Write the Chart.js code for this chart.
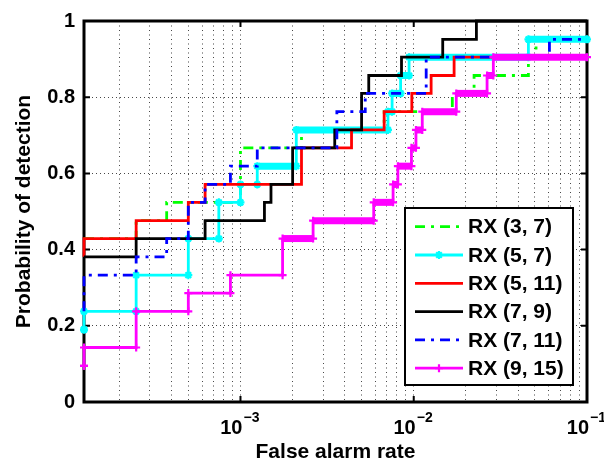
<!DOCTYPE html>
<html>
<head>
<meta charset="utf-8">
<script src="https://cdn.jsdelivr.net/npm/chart.js"></script>
<style>
  html, body { margin: 0; padding: 0; background: #fff; }
  #wrap { width: 604px; height: 466px; }
</style>
</head>
<body>
<div id="wrap"><canvas id="roc" width="604" height="466"></canvas></div>
<script>
// ROC curves: probability of detection against false alarm rate (log axis)
const seriesNames = ['RX (3, 7)', 'RX (5, 7)', 'RX (5, 11)', 'RX (7, 9)', 'RX (7, 11)', 'RX (9, 15)'];
const seriesColors = ['#00ff00', '#00ffff', '#ff0000', '#000000', '#0000ff', '#ff00ff'];

// step corners: false alarm rate where the curve jumps, detection level after the jump
const rx37Fa = [1.25e-4, 2.5e-4, 3.75e-4, 1e-3, 2.25e-3, 6.75e-3, 0.0167, 0.0223, 0.0459, 0.0508, 0.1];
const rx37Pd = [0.429, 0.476, 0.524, 0.667, 0.714, 0.762, 0.810, 0.857, 0.905, 0.952, 0.952];

const rx57Fa = [1.25e-4, 1.25e-4, 2.5e-4, 5e-4, 7.5e-4, 1e-3, 1.25e-3, 2.1e-3, 7.1e-3, 7.5e-3, 8.4e-3, 9.4e-3, 0.0459, 0.1];
const rx57Pd = [0.190, 0.238, 0.333, 0.429, 0.524, 0.571, 0.619, 0.714, 0.762, 0.810, 0.857, 0.905, 0.952, 0.952];

const rx511Fa = [1.25e-4, 1.25e-4, 2.5e-4, 5e-4, 6.25e-4, 2.25e-3, 4.375e-3, 6.75e-3, 9.75e-3, 0.0126, 0.0171, 0.1];
const rx511Pd = [0.381, 0.429, 0.476, 0.524, 0.571, 0.667, 0.714, 0.762, 0.810, 0.857, 0.905, 0.905];

const rx79Fa = [1.25e-4, 2.5e-4, 6.25e-4, 1.375e-3, 1.5e-3, 2e-3, 3.5e-3, 5e-3, 5.5e-3, 8.5e-3, 0.0147, 0.023, 0.1];
const rx79Pd = [0.381, 0.429, 0.476, 0.524, 0.571, 0.667, 0.714, 0.810, 0.857, 0.905, 0.952, 1.0, 1.0];

const rx711Fa = [1.25e-4, 1.25e-4, 2.5e-4, 3.75e-4, 5e-4, 6.25e-4, 8.75e-4, 1.25e-3, 3.6e-3, 5.25e-3, 0.0118, 0.0607, 0.1];
const rx711Pd = [0.238, 0.333, 0.381, 0.429, 0.524, 0.571, 0.619, 0.667, 0.762, 0.810, 0.905, 0.952, 0.952];

const rx915Fa = [1.25e-4, 1.25e-4, 2.5e-4, 5e-4, 8.75e-4, 1.75e-3, 2.625e-3, 5.875e-3, 7.6e-3, 8.1e-3, 9.7e-3, 0.0103, 0.0112, 0.0176, 0.0265, 0.0288, 0.1];
const rx915Pd = [0.095, 0.143, 0.238, 0.286, 0.333, 0.429, 0.476, 0.524, 0.571, 0.619, 0.667, 0.714, 0.762, 0.810, 0.857, 0.905, 0.905];

const xMajorTicks = [1e-3, 1e-2, 1e-1];
const yTicks = [0, 0.2, 0.4, 0.6, 0.8, 1];
const xMin = 1.25e-4, xMax = 0.1;

const FONT = '"Liberation Sans", Arial, Helvetica, sans-serif';
const gridColor = 'rgba(0,0,0,0.72)';
const dashDot = [10, 6, 3, 6];

// minor log grid: 2..9 x each decade
const xGridTicks = [];
for (let e = -4; e <= -2; e++) {
  for (let m = 1; m <= 9; m++) {
    const v = m * Math.pow(10, e);
    if (v > xMin && v < xMax) xGridTicks.push(v);
  }
}
xGridTicks.push(xMax);

// turn step corners into horizontal-then-vertical points
function stepPoints(fa, pd) {
  const pts = [{x: fa[0], y: pd[0]}];
  for (let i = 1; i < fa.length; i++) {
    pts.push({x: fa[i], y: pd[i - 1]});
    if (pd[i] !== pd[i - 1]) pts.push({x: fa[i], y: pd[i]});
  }
  return pts;
}

// markers sit so close together on the right part that they merge into a band
function bandWidth(ctx) {
  if (ctx.p0.y !== ctx.p1.y) return undefined;
  const v = ctx.chart.scales.x.getValueForPixel(ctx.p0.x);
  return v >= 1.2e-3 ? 7 : undefined;
}

const faList = [rx37Fa, rx57Fa, rx511Fa, rx79Fa, rx711Fa, rx915Fa];
const pdList = [rx37Pd, rx57Pd, rx511Pd, rx79Pd, rx711Pd, rx915Pd];
const dashes = [dashDot, [], [], [], dashDot, []];
const markers = [false, 'star', false, false, false, 'cross'];

const datasets = seriesNames.map((name, i) => ({
  label: name,
  data: stepPoints(faList[i], pdList[i]),
  borderColor: seriesColors[i],
  backgroundColor: seriesColors[i],
  borderWidth: 2.8,
  borderDash: dashes[i],
  tension: 0,
  fill: false,
  clip: false,
  order: seriesNames.length - i,
  pointStyle: markers[i] || 'circle',
  pointRadius: markers[i] ? 4 : 0,
  pointBorderWidth: 2.2,
  pointBorderColor: seriesColors[i],
  pointHoverRadius: 0,
  segment: markers[i] ? { borderWidth: bandWidth } : {}
}));

function drawMarker(ctx, style, x, y, r) {
  ctx.beginPath();
  ctx.moveTo(x - r, y); ctx.lineTo(x + r, y);
  ctx.moveTo(x, y - r); ctx.lineTo(x, y + r);
  if (style === 'star') {
    const d = r * Math.SQRT1_2;
    ctx.moveTo(x - d, y - d); ctx.lineTo(x + d, y + d);
    ctx.moveTo(x - d, y + d); ctx.lineTo(x + d, y - d);
  }
  ctx.stroke();
}

const decor = {
  id: 'decor',
  beforeDatasetsDraw(chart) {
    const {ctx, chartArea: a, scales: {x, y}} = chart;
    ctx.save();
    ctx.strokeStyle = '#000';
    ctx.lineWidth = 2;
    ctx.beginPath();
    xMajorTicks.forEach(v => {
      const px = x.getPixelForValue(v);
      ctx.moveTo(px, a.bottom); ctx.lineTo(px, a.bottom - 6);
      ctx.moveTo(px, a.top); ctx.lineTo(px, a.top + 6);
    });
    yTicks.forEach(v => {
      const py = y.getPixelForValue(v);
      ctx.moveTo(a.left, py); ctx.lineTo(a.left + 6, py);
      ctx.moveTo(a.right, py); ctx.lineTo(a.right - 6, py);
    });
    ctx.stroke();
    ctx.lineWidth = 3;
    ctx.strokeRect(a.left, a.top, a.right - a.left, a.bottom - a.top);
    ctx.restore();
  },
  afterDraw(chart) {
    const {ctx, chartArea: a, scales: {x}} = chart;
    ctx.save();
    ctx.fillStyle = '#000';

    // x tick labels 10^n
    xMajorTicks.forEach(v => {
      const px = x.getPixelForValue(v);
      const e = Math.round(Math.log10(v));
      ctx.font = 'bold 20px ' + FONT;
      ctx.textAlign = 'right';
      ctx.textBaseline = 'alphabetic';
      ctx.fillText('10', px + 2, 434);
      ctx.font = 'bold 14px ' + FONT;
      ctx.textAlign = 'left';
      ctx.fillText((e < 0 ? '\u2212' : '') + Math.abs(e), px + 3, 422);
    });

    // axis titles
    ctx.font = 'bold 21px ' + FONT;
    ctx.textAlign = 'center';
    ctx.textBaseline = 'alphabetic';
    ctx.fillText('False alarm rate', (a.left + a.right) / 2, 458);
    ctx.save();
    ctx.translate(30, (a.top + a.bottom) / 2);
    ctx.rotate(-Math.PI / 2);
    ctx.fillText('Probability of detection', 0, 0);
    ctx.restore();

    // legend
    const lx = 405, ly = 208, lw = 168, lh = 177;
    ctx.fillStyle = '#fff';
    ctx.fillRect(lx, ly, lw, lh);
    ctx.strokeStyle = '#000';
    ctx.lineWidth = 2;
    ctx.strokeRect(lx, ly, lw, lh);
    seriesNames.forEach((name, i) => {
      const ry = 226.7 + i * 28.3;
      ctx.strokeStyle = seriesColors[i];
      ctx.lineWidth = 2.8;
      ctx.setLineDash(dashes[i]);
      ctx.beginPath();
      ctx.moveTo(415, ry); ctx.lineTo(463, ry);
      ctx.stroke();
      ctx.setLineDash([]);
      if (markers[i]) {
        ctx.lineWidth = 2.2;
        drawMarker(ctx, markers[i], 439, ry, 4);
      }
      ctx.fillStyle = '#000';
      ctx.font = 'bold 21px ' + FONT;
      ctx.textAlign = 'left';
      ctx.textBaseline = 'middle';
      ctx.fillText(name, 468, ry + 1);
    });
    ctx.restore();
  }
};

const chart = new Chart(document.getElementById('roc'), {
  type: 'line',
  data: { datasets },
  options: {
    responsive: false,
    animation: false,
    devicePixelRatio: 1,
    events: [],
    layout: { padding: { left: 10, right: 17, top: 14, bottom: 0 } },
    plugins: { legend: { display: false }, tooltip: { enabled: false } },
    scales: {
      x: {
        type: 'logarithmic',
        min: xMin,
        max: xMax,
        afterBuildTicks: s => { s.ticks = xGridTicks.map(v => ({ value: v })); },
        afterFit: s => { s.height = 64; },
        ticks: { display: false },
        grid: { color: gridColor, lineWidth: 1, drawTicks: false },
        border: { display: false, dash: [1, 3.5] }
      },
      y: {
        type: 'linear',
        min: 0,
        max: 1,
        afterBuildTicks: s => { s.ticks = yTicks.map(v => ({ value: v })); },
        afterFit: s => { s.width = 74; },
        ticks: {
          color: '#000',
          padding: 9,
          font: { family: FONT, size: 20, weight: 'bold' },
          callback: v => String(v)
        },
        grid: { color: gridColor, lineWidth: 1, drawTicks: false },
        border: { display: false, dash: [1, 3] }
      }
    }
  },
  plugins: [decor]
});
</script>
</body>
</html>
